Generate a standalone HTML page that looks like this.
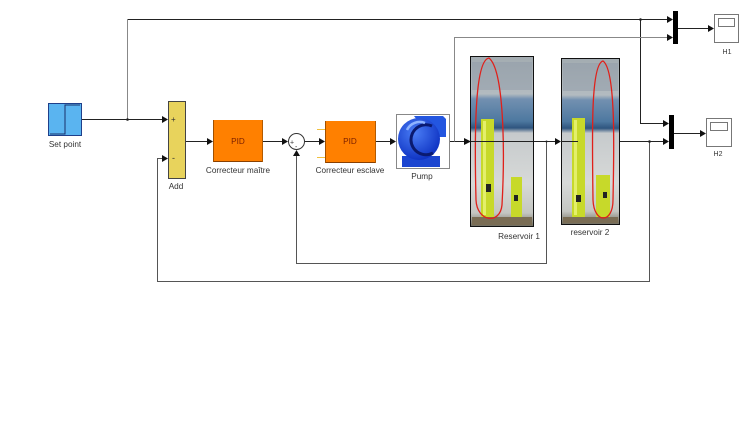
<!DOCTYPE html>
<html><head><meta charset="utf-8"><style>
html,body{margin:0;padding:0;background:#fff;}
svg{display:block;}
text{font-family:"Liberation Sans",sans-serif;font-size:8.2px;fill:#333;}
</style></head><body>
<svg width="748" height="444" viewBox="0 0 748 444" xmlns="http://www.w3.org/2000/svg">
<defs>
<linearGradient id="ph" x1="0" y1="0" x2="0" y2="1">
<stop offset="0" stop-color="#a3acb1"/>
<stop offset="0.22" stop-color="#b3bbc0"/>
<stop offset="0.25" stop-color="#7290b0"/>
<stop offset="0.38" stop-color="#4d78a0"/>
<stop offset="0.42" stop-color="#2f557f"/>
<stop offset="0.45" stop-color="#c6cacc"/>
<stop offset="0.75" stop-color="#d7d9d8"/>
<stop offset="0.92" stop-color="#c4c6c2"/>
<stop offset="1" stop-color="#6e6a5c"/>
</linearGradient>
<radialGradient id="pb" cx="0.4" cy="0.35" r="0.7">
<stop offset="0" stop-color="#4a7df5"/>
<stop offset="1" stop-color="#0b2fc0"/>
</radialGradient>
</defs>

<!-- connectors -->
<g fill="none" stroke="#222" stroke-width="1">
<line x1="82" y1="119.5" x2="166" y2="119.5"/>
<line x1="127.5" y1="19.5" x2="667" y2="19.5"/>
<polyline points="640.5,19.5 640.5,123.5 663,123.5"/>
<line x1="185" y1="141.5" x2="207" y2="141.5"/>
<line x1="263" y1="141.5" x2="283" y2="141.5"/>
<line x1="304" y1="141.5" x2="319" y2="141.5"/>
<line x1="376" y1="141.5" x2="390" y2="141.5"/>
<line x1="450" y1="141.5" x2="464" y2="141.5"/>
<line x1="464" y1="141.5" x2="555" y2="141.5"/>
<line x1="561" y1="141.5" x2="578" y2="141.5"/>
<line x1="619" y1="141.5" x2="663" y2="141.5"/>
<line x1="678" y1="28.5" x2="708" y2="28.5"/>
<line x1="673" y1="133.5" x2="700" y2="133.5"/>
</g>
<g fill="none" stroke="#555" stroke-width="1">
<polyline points="546.5,141.5 546.5,263.5 296.5,263.5 296.5,156"/>
<polyline points="649.5,141.5 649.5,281.5 157.5,281.5 157.5,158.5 162,158.5"/>
</g>
<g fill="none" stroke="#888" stroke-width="1">
<line x1="127.5" y1="19.5" x2="127.5" y2="119.5"/>
<polyline points="454.5,141.5 454.5,37.5 667,37.5"/>
</g>
<!-- junction dots -->
<g fill="#222">
<circle cx="127.5" cy="119.5" r="1.3"/>
<circle cx="640.5" cy="19.5" r="1.3"/>
<circle cx="578" cy="141.5" r="1.3"/>
<circle cx="649.5" cy="141.5" r="1.3"/>
<circle cx="546.5" cy="141.5" r="1"/>
</g>
<!-- arrowheads -->
<g fill="#111">
<polygon points="162,116 168,119.5 162,123"/>
<polygon points="162,155 168,158.5 162,162"/>
<polygon points="207,138 213,141.5 207,145"/>
<polygon points="282,138 288,141.5 282,145"/>
<polygon points="319,138 325,141.5 319,145"/>
<polygon points="390,138 396,141.5 390,145"/>
<polygon points="464,138 471,141.5 464,145"/>
<polygon points="555,138 561,141.5 555,145"/>
<polygon points="667,16 673,19.5 667,23"/>
<polygon points="667,34 673,37.5 667,41"/>
<polygon points="663,120 669,123.5 663,127"/>
<polygon points="663,138 669,141.5 663,145"/>
<polygon points="708,25 714,28.5 708,32"/>
<polygon points="700,130 706,133.5 700,137"/>
<polygon points="293,156 296.5,150 300,156"/>
</g>

<!-- Set point -->
<rect x="48.5" y="103.5" width="33" height="32" fill="#5ab4f0" stroke="#1f3f8a"/>
<polyline points="50,134 65,134 65,105 80,105" fill="none" stroke="#1a2f6a" stroke-width="1"/>
<text x="65" y="147" text-anchor="middle">Set point</text>

<!-- Add -->
<rect x="168.5" y="101.5" width="17" height="77" fill="#e8d35c" stroke="#444"/>
<text x="171" y="122" style="font-size:8px">+</text>
<text x="172" y="161" style="font-size:9px">-</text>
<text x="176" y="189" text-anchor="middle">Add</text>

<!-- PID 1 -->
<rect x="213" y="120" width="50" height="42" fill="#ff8000"/>
<line x1="213" y1="161.5" x2="263" y2="161.5" stroke="#8a4000"/>
<line x1="213.5" y1="120" x2="213.5" y2="162" stroke="#a05000"/>
<line x1="262.5" y1="120" x2="262.5" y2="162" stroke="#b35a00"/>
<text x="238" y="144" text-anchor="middle" style="fill:#7a1f00">PID</text>
<text x="238" y="173" text-anchor="middle">Correcteur maître</text>

<!-- Sum -->
<circle cx="296.5" cy="141.5" r="8" fill="#fff" stroke="#333"/>
<text x="290" y="144.5" style="font-size:7px">+</text>
<text x="295" y="149" style="font-size:7px">-</text>

<!-- PID 2 -->
<line x1="317" y1="129.5" x2="325" y2="129.5" stroke="#f0c040"/>
<line x1="317" y1="157.5" x2="325" y2="157.5" stroke="#f0c040"/>
<rect x="325" y="121" width="51" height="42" fill="#ff8000"/>
<line x1="325" y1="162.5" x2="376" y2="162.5" stroke="#8a4000"/>
<line x1="325.5" y1="121" x2="325.5" y2="163" stroke="#a05000"/>
<line x1="375.5" y1="121" x2="375.5" y2="163" stroke="#b35a00"/>
<text x="350" y="144" text-anchor="middle" style="fill:#7a1f00">PID</text>
<text x="350" y="173" text-anchor="middle">Correcteur esclave</text>

<!-- Pump -->
<rect x="396.5" y="114.5" width="53" height="54" fill="#fff" stroke="#888"/>
<path d="M414 116 L443 116 L446 119 L446 137 L430 137 Z" fill="#2356e0"/>
<rect x="402" y="156" width="38" height="11" fill="#1b45d0"/>
<circle cx="419" cy="139" r="21" fill="url(#pb)"/>
<path d="M432 126 A15 15 0 1 0 433 153" fill="none" stroke="#0a1a70" stroke-width="3"/>
<path d="M407 130 A14 14 0 0 1 425 123" fill="none" stroke="#8fb4ff" stroke-width="2.5"/>
<text x="422" y="179" text-anchor="middle">Pump</text>

<!-- Reservoir 1 -->
<rect x="470.5" y="56.5" width="63" height="170" fill="url(#ph)" stroke="#111"/>
<rect x="472" y="62" width="60" height="28" fill="#8e9aa6" opacity="0.45"/>
<rect x="481" y="119" width="13" height="98" fill="#c7d92a"/>
<rect x="483" y="121" width="3" height="94" fill="#e4ef6a"/>
<rect x="511" y="177" width="11" height="40" fill="#c7d92a"/>
<rect x="486" y="184" width="5" height="8" fill="#222"/>
<rect x="514" y="195" width="4" height="6" fill="#222"/>
<rect x="472" y="217" width="60" height="8" fill="#7a6d55"/>
<path d="M489 58 C476 60 474 120 476 200 C477 222 500 225 502 205 C505 150 504 70 489 58 Z" fill="none" stroke="#e0201a" stroke-width="1.3"/>
<line x1="471" y1="141.5" x2="533" y2="141.5" stroke="#222"/>
<text x="519" y="239" text-anchor="middle">Reservoir 1</text>

<!-- Reservoir 2 -->
<rect x="561.5" y="58.5" width="58" height="166" fill="url(#ph)" stroke="#111"/>
<rect x="563" y="63" width="55" height="28" fill="#8e9aa6" opacity="0.45"/>
<rect x="572" y="118" width="13" height="99" fill="#c7d92a"/>
<rect x="574" y="120" width="3" height="95" fill="#e4ef6a"/>
<rect x="596" y="175" width="14" height="42" fill="#c7d92a"/>
<rect x="576" y="195" width="5" height="7" fill="#222"/>
<rect x="603" y="192" width="4" height="6" fill="#222"/>
<rect x="563" y="217" width="55" height="6" fill="#7a6d55"/>
<path d="M603 61 C591 64 592 130 593 200 C594 224 613 224 613 200 C614 150 616 70 603 61 Z" fill="none" stroke="#e0201a" stroke-width="1.3"/>
<line x1="561" y1="141.5" x2="578" y2="141.5" stroke="#222"/>
<text x="590" y="235" text-anchor="middle">reservoir 2</text>

<!-- Mux H1 -->
<rect x="673" y="11" width="5" height="33" fill="#000"/>
<!-- Scope H1 -->
<rect x="714.5" y="14.5" width="24" height="28" fill="#fff" stroke="#777"/>
<rect x="718.5" y="18.5" width="16" height="8" fill="#fff" stroke="#777"/>
<text x="727" y="54" text-anchor="middle" style="font-size:7px">H1</text>

<!-- Mux H2 -->
<rect x="669" y="115" width="5" height="34" fill="#000"/>
<!-- Scope H2 -->
<rect x="706.5" y="118.5" width="25" height="28" fill="#fff" stroke="#777"/>
<rect x="710.5" y="122.5" width="17" height="8" fill="#fff" stroke="#777"/>
<text x="718" y="156" text-anchor="middle" style="font-size:7px">H2</text>
</svg>
</body></html>
